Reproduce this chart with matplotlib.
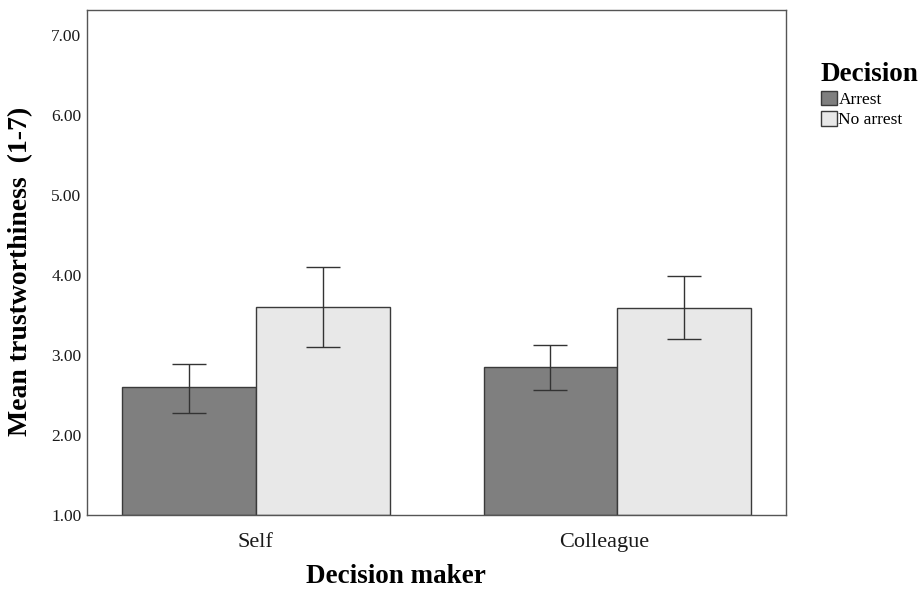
import numpy as np
import matplotlib
matplotlib.use("Agg")
import matplotlib.pyplot as plt
from matplotlib.transforms import ScaledTranslation

# === Data ===
makers = ["Self", "Colleague"]
decisions = ["Arrest", "No arrest"]
arrest_mean = [2.60, 2.85]
arrest_low = [2.28, 2.56]
arrest_high = [2.89, 3.13]
noarrest_mean = [3.60, 3.59]
noarrest_low = [3.10, 3.20]
noarrest_high = [4.10, 3.98]
yticks = [1.0, 2.0, 3.0, 4.0, 5.0, 6.0, 7.0]

plt.rcParams['font.family'] = ['Liberation Serif', 'DejaVu Serif']

fig = plt.figure(figsize=(9.24, 5.91), dpi=100)
ax = fig.add_axes([0.0942, 0.1286, 0.7565, 0.8545])

x = np.arange(len(makers))
w = 0.37
edge = '#3a3a3a'

series = [
    (arrest_mean, arrest_low, arrest_high, '#7f7f7f', -w / 2),
    (noarrest_mean, noarrest_low, noarrest_high, '#e8e8e8', w / 2),
]
for (mean, lo, hi, col, off), lab in zip(series, decisions):
    mean = np.array(mean)
    yerr = [mean - np.array(lo), np.array(hi) - mean]
    ax.bar(x + off, mean - 1.0, w, bottom=1.0, color=col, edgecolor=edge,
           linewidth=1.0, label=lab, zorder=2)
    ax.errorbar(x + off, mean, yerr=yerr, fmt='none', ecolor='#333333',
                elinewidth=1.0, capsize=12, capthick=1.0, zorder=3)

ax.set_xlim(-0.4665, 1.4665)
ax.set_ylim(1.0, 7.31)
ax.set_yticks(yticks)
ax.set_yticklabels([f"{v:.2f}" for v in yticks])
ax.set_xticks(x)
ax.set_xticklabels(makers)
ax.tick_params(axis='x', length=0, pad=13, labelsize=16, colors='#1a1a1a')
ax.tick_params(axis='y', length=0, pad=4, labelsize=12.5, colors='#1a1a1a')

# the second category label sits a bit left of its group centre in the original
lbl = ax.get_xticklabels()[1]
lbl.set_transform(lbl.get_transform() + ScaledTranslation(-0.13, 0, fig.dpi_scale_trans))

for sp in ax.spines.values():
    sp.set_color('#555555')
    sp.set_linewidth(1.0)

ax.set_ylabel("Mean trustworthiness  (1-7)", fontsize=20, fontweight='bold')
ax.yaxis.set_label_coords(-0.077, 0.483)
ax.set_xlabel("Decision maker", fontsize=19.5, fontweight='bold')
ax.xaxis.set_label_coords(0.442, -0.097)

# === Legend ===
leg = fig.legend(loc='upper left', bbox_to_anchor=(0.8885, 0.895),
                 frameon=False, fontsize=12.5, title="Decision",
                 title_fontproperties={'weight': 'bold', 'size': 19.5},
                 handlelength=0.9, handleheight=0.9, handletextpad=0.1,
                 labelspacing=0.2, borderpad=0, borderaxespad=0,
                 alignment='left')
for p in leg.get_patches():
    p.set_edgecolor(edge)

fig.savefig("out.png", dpi=100)
